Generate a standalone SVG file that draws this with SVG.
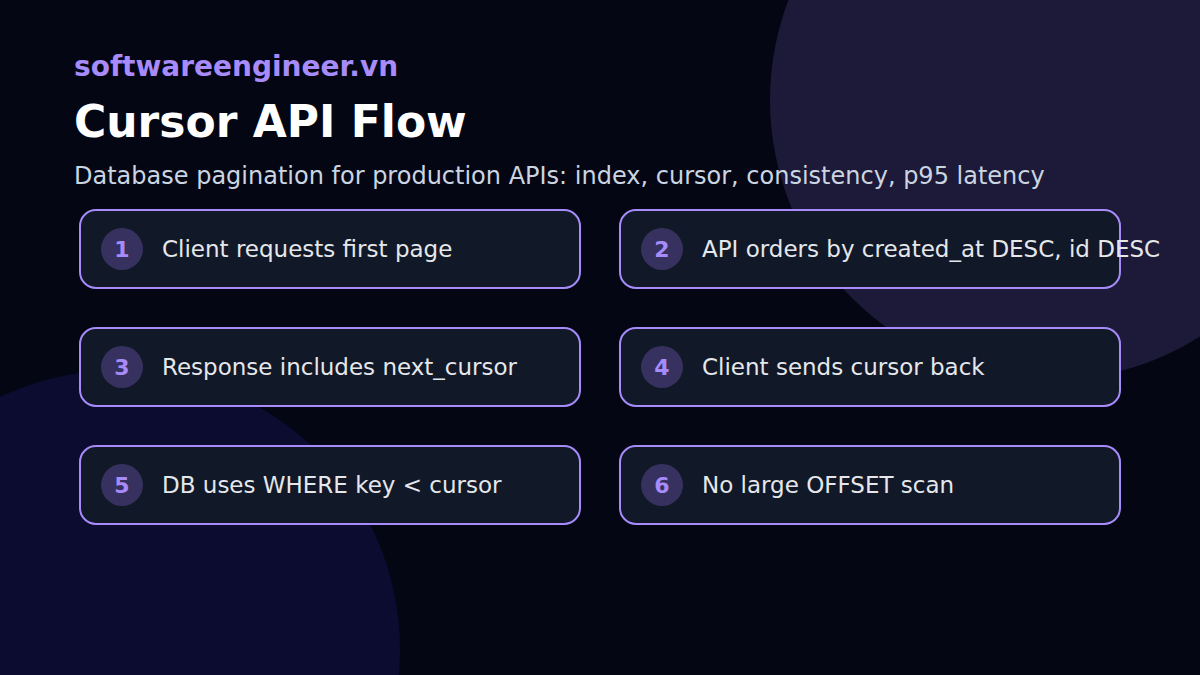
<svg xmlns="http://www.w3.org/2000/svg" width="1200" height="675" viewBox="0 0 1200 675">
<style>
.brand{font-family:"DejaVu Sans",sans-serif;font-weight:bold;font-size:28px;fill:#a78bfa}
.title{font-family:"DejaVu Sans",sans-serif;font-weight:bold;font-size:44px;fill:#ffffff}
.sub{font-family:"DejaVu Sans",sans-serif;font-size:24px;fill:#cbd5e1}
.box{fill:#111827;stroke:#a78bfa;stroke-width:2}
.badge{fill:#37315f}
.num{font-family:"DejaVu Sans",sans-serif;font-weight:bold;font-size:22px;fill:#a78bfa;text-anchor:middle}
.lbl{font-family:"DejaVu Sans",sans-serif;font-size:23px;fill:#e5e7eb}
</style>
<rect width="1200" height="675" fill="#040614"/>
<circle cx="1050" cy="100" r="280" fill="#1c1a38"/>
<circle cx="120" cy="650" r="280" fill="#0c0c30"/>
<text class="brand" x="74" y="76">softwareengineer.vn</text>
<text class="title" x="74" y="137">Cursor API Flow</text>
<text class="sub" x="74" y="184">Database pagination for production APIs: index, cursor, consistency, p95 latency</text>
<g id="node1"><rect class="box" x="80" y="210" width="500" height="78" rx="16"/><circle class="badge" cx="122" cy="249" r="21"/><text class="num" x="122" y="257">1</text><text class="lbl" x="162" y="257">Client requests first page</text></g>
<g id="node2"><rect class="box" x="620" y="210" width="500" height="78" rx="16"/><circle class="badge" cx="662" cy="249" r="21"/><text class="num" x="662" y="257">2</text><text class="lbl" x="702" y="257">API orders by created_at DESC, id DESC</text></g>
<g id="node3"><rect class="box" x="80" y="328" width="500" height="78" rx="16"/><circle class="badge" cx="122" cy="367" r="21"/><text class="num" x="122" y="375">3</text><text class="lbl" x="162" y="375">Response includes next_cursor</text></g>
<g id="node4"><rect class="box" x="620" y="328" width="500" height="78" rx="16"/><circle class="badge" cx="662" cy="367" r="21"/><text class="num" x="662" y="375">4</text><text class="lbl" x="702" y="375">Client sends cursor back</text></g>
<g id="node5"><rect class="box" x="80" y="446" width="500" height="78" rx="16"/><circle class="badge" cx="122" cy="485" r="21"/><text class="num" x="122" y="493">5</text><text class="lbl" x="162" y="493">DB uses WHERE key &lt; cursor</text></g>
<g id="node6"><rect class="box" x="620" y="446" width="500" height="78" rx="16"/><circle class="badge" cx="662" cy="485" r="21"/><text class="num" x="662" y="493">6</text><text class="lbl" x="702" y="493">No large OFFSET scan</text></g>
<g id="connectors"></g>
</svg>
